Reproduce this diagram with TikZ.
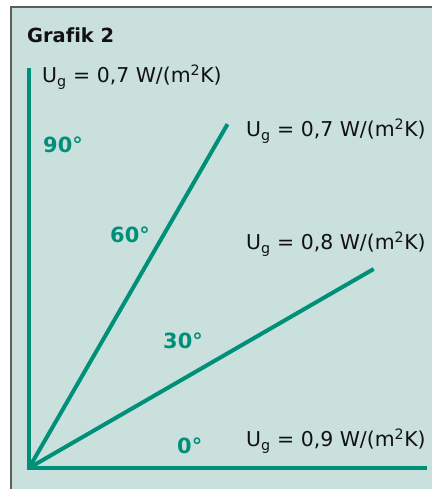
\documentclass[tikz,border=0pt]{standalone}
\usepackage{fontspec}
\setmainfont[Ligatures=NoCommon]{DejaVu Sans}
\usepackage{xcolor}
\usetikzlibrary{positioning, calc}
\definecolor{grafTeal}{HTML}{00907A}
\definecolor{grafBack}{HTML}{C9E0DC}
\definecolor{grafFrame}{HTML}{5E5E5E}
\definecolor{grafInk}{HTML}{111111}

\begin{document}
\begin{tikzpicture}[x=1bp,y=1bp,
  ray/.style={draw=grafTeal,line width=4bp},
  ulabel/.style={anchor=base west,inner sep=0pt,text=grafInk,font=\fontsize{20.5}{22}\selectfont},
  deglabel/.style={anchor=base west,inner sep=0pt,text=grafTeal,font=\fontsize{21}{23}\selectfont\bfseries}]
\useasboundingbox (0,0) rectangle (432,489);
\fill[grafBack] (11,0) rectangle (432,482);
\draw[grafFrame,line width=2bp] (11,0) -- (11,482) -- (432,482);
\node[anchor=base west,inner sep=0pt,text=grafInk,font=\fontsize{19.5}{22}\selectfont\bfseries] (title) at (27,446) {Grafik 2};
\newcommand{\uval}[1]{U\textsubscript{g} = #1 W/(m\textsuperscript{2}K)}
% axes and rays
\coordinate (origin) at (29,21);
\coordinate (axtop) at (29,421);
\coordinate (axend) at (427,21);
\coordinate (end60) at ($(origin)+(60:397)$);
\coordinate (end30) at ($(origin)+(30:398)$);
\draw[ray] (axtop) -- (origin) -- (axend);
\draw[ray] (origin) -- (end60);
\draw[ray] (origin) -- (end30);
% angle labels
\node[deglabel] (deg90) at (43,336) {90°};
\node[deglabel] (deg60) at (110,246) {60°};
\node[deglabel] (deg30) at (163,140) {30°};
\node[deglabel] (deg0) at (177,35) {0°};
% U values
\node[ulabel] (u90) at (42,406) {\uval{0,7}};
\node[ulabel] (u60) at (246,352) {\uval{0,7}};
\node[ulabel] (u30) at (246,239) {\uval{0,8}};
\node[ulabel] (u0) at (246,42) {\uval{0,9}};
\end{tikzpicture}
\end{document}
